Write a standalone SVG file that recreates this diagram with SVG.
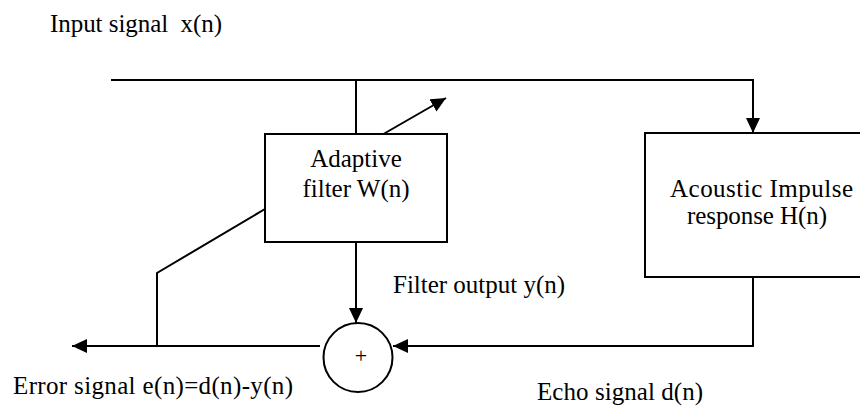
<svg xmlns="http://www.w3.org/2000/svg" width="860" height="408" viewBox="0 0 860 408">
<defs>
<style>
.t{font-family:"Liberation Serif","Times New Roman",serif;font-size:25px;fill:#000}
.ln{fill:none;stroke:#000;stroke-width:2}
.bx{fill:#fff;stroke:#000;stroke-width:2}
</style>
<marker id="ah" markerUnits="userSpaceOnUse" markerWidth="15" markerHeight="14" refX="15" refY="7" orient="auto" viewBox="0 0 15 14">
<path d="M0,0 L15,7 L0,14 z" fill="#000"/>
</marker>
</defs>
<rect width="860" height="408" fill="#fff"/>
<g id="connectors">
<path class="ln" d="M111,80 H753 V133" marker-end="url(#ah)"/>
<path class="ln" d="M356,80 V134"/>
<path class="ln" d="M373,140 L446,98" marker-end="url(#ah)"/>
<path class="ln" d="M356,242 V323" marker-end="url(#ah)"/>
<path class="ln" d="M753,277 V346 H393" marker-end="url(#ah)"/>
<path class="ln" d="M320,346 H72" marker-end="url(#ah)"/>
<path class="ln" d="M157,346 V273 L265,209"/>
</g>
<g id="input-label">
<text class="t" x="50" y="32" xml:space="preserve" textLength="172">Input signal  x(n)</text>
</g>
<g id="adaptive-filter">
<rect class="bx" x="265" y="134" width="182" height="108"/>
<text class="t" x="356" y="167" text-anchor="middle">Adaptive</text>
<text class="t" x="356" y="197" text-anchor="middle">filter W(n)</text>
</g>
<g id="acoustic-impulse">
<rect class="bx" x="645" y="133" width="230" height="144"/>
<text class="t" x="670" y="197" textLength="183">Acoustic Impulse</text>
<text class="t" x="687" y="224" textLength="140">response H(n)</text>
</g>
<g id="sum">
<circle class="bx" cx="358" cy="357.5" r="34.5"/>
<text class="t" x="361" y="362.5" text-anchor="middle" style="font-size:22px">+</text>
</g>
<g id="labels">
<text class="t" x="393" y="293" textLength="172">Filter output y(n)</text>
<text class="t" x="13" y="394" textLength="280">Error signal e(n)=d(n)-y(n)</text>
<text class="t" x="537" y="400" textLength="166">Echo signal d(n)</text>
</g>
</svg>
